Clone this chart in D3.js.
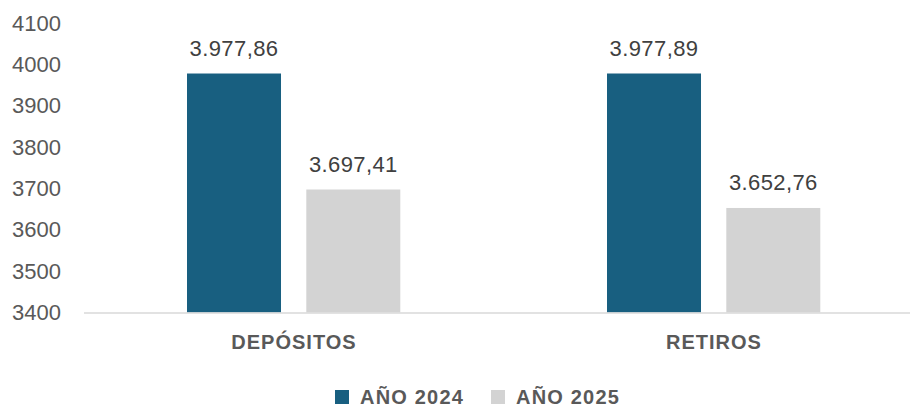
<!DOCTYPE html>
<html>

<head>
    <meta charset="UTF-8">
    <title>Depósitos y retiros</title>
    <script src="https://d3js.org/d3.v7.min.js"></script>
    <style>
        body {
            margin: 0;
            background: #fff;
        }

        text {
            font-family: "Liberation Sans", Arial, sans-serif;
        }
    </style>
</head>

<body>
    <div id="chart"></div>
    <script>
        const categories = ["DEPÓSITOS", "RETIROS"];
        const seriesNames = ["AÑO 2024", "AÑO 2025"];
        const values2024 = [3977.86, 3977.89];
        const values2025 = [3697.41, 3652.76];
        const yTicks = [3400, 3500, 3600, 3700, 3800, 3900, 4000, 4100];

        const colors = ["#185f80", "#d3d3d3"];
        const width = 910;
        const height = 406;

        const rows = categories.map((c, i) => ({
            category: c,
            values: [values2024[i], values2025[i]]
        }));

        const svg = d3.select('#chart')
            .append('svg')
            .attr('width', width)
            .attr('height', height);

        const x0 = d3.scaleBand()
            .domain(categories)
            .range([84, 924]);

        const x1 = d3.scaleBand()
            .domain(seriesNames)
            .range([103, 316.3])
            .paddingInner(0.212);

        const yScale = d3.scaleLinear()
            .domain([3400, 4100])
            .range([312.5, 23]);

        // y axis labels only, no line
        const yAxis = d3.axisLeft(yScale)
            .tickValues(yTicks)
            .tickSize(0)
            .tickPadding(0)
            .tickFormat(d3.format('d'));

        svg.append('g')
            .attr('transform', 'translate(61, 0)')
            .call(yAxis)
            .call(g => g.select('.domain').remove())
            .selectAll('text')
            .attr('font-size', 22)
            .attr('fill', '#595959')
            .attr('font-family', '"Liberation Sans", Arial, sans-serif');

        // bars
        const groups = svg.selectAll('.group')
            .data(rows)
            .enter()
            .append('g')
            .attr('transform', d => 'translate(' + x0(d.category) + ',0)');

        groups.selectAll('rect')
            .data(d => d.values.map((v, i) => ({ series: seriesNames[i], value: v, i: i })))
            .enter()
            .append('rect')
            .attr('x', d => x1(d.series))
            .attr('y', d => yScale(d.value))
            .attr('width', x1.bandwidth())
            .attr('height', d => yScale(3400) - yScale(d.value))
            .attr('fill', d => colors[d.i]);

        const fmt = d3.formatLocale({ decimal: ',', thousands: '.', grouping: [3], currency: ['', ''] }).format(',.2f');

        groups.selectAll('.label')
            .data(d => d.values.map((v, i) => ({ series: seriesNames[i], value: v })))
            .enter()
            .append('text')
            .attr('x', d => x1(d.series) + x1.bandwidth() / 2)
            .attr('y', d => yScale(d.value) - 17.5)
            .attr('text-anchor', 'middle')
            .attr('font-size', 22)
            .attr('letter-spacing', 0.4)
            .attr('fill', '#404040')
            .text(d => fmt(d.value));

        // baseline
        svg.append('line')
            .attr('x1', 84)
            .attr('x2', width)
            .attr('y1', yScale(3400) + 0.5)
            .attr('y2', yScale(3400) + 0.5)
            .attr('stroke', '#d9d9d9')
            .attr('stroke-width', 1.5);

        // category labels
        svg.selectAll('.cat')
            .data(categories)
            .enter()
            .append('text')
            .attr('x', d => x0(d) + x0.bandwidth() / 2)
            .attr('y', 348.5)
            .attr('text-anchor', 'middle')
            .attr('font-size', 20)
            .attr('font-weight', 'bold')
            .attr('letter-spacing', 1)
            .attr('fill', '#595959')
            .text(d => d);

        // legend
        const legendX = [335, 491];
        const legend = svg.selectAll('.legend')
            .data(seriesNames)
            .enter()
            .append('g')
            .attr('transform', (d, i) => 'translate(' + legendX[i] + ',390)');

        legend.append('rect')
            .attr('width', 14)
            .attr('height', 14)
            .attr('fill', (d, i) => colors[i]);

        legend.append('text')
            .attr('x', 25)
            .attr('y', 13.5)
            .attr('font-size', 20)
            .attr('font-weight', 'bold')
            .attr('letter-spacing', 1.2)
            .attr('fill', '#595959')
            .text(d => d);
    </script>
</body>

</html>
